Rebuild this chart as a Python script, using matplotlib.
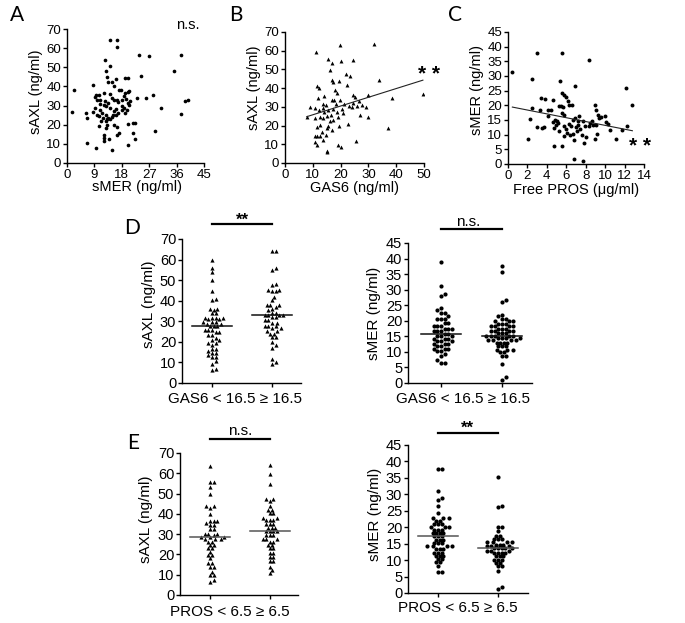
import numpy as np
import matplotlib
matplotlib.use('Agg')
import matplotlib.pyplot as plt

plt.rcParams['font.family'] = ['Liberation Sans', 'DejaVu Sans']

# ---------------- data ----------------
# Panel A: sMER (x) vs sAXL (y)
A_smer = [14.2,16.4,16.4,12.6,12.9,14.2,23.5,26.8,37.4,35.2,
          24.2,19.1,20.2,16.1,13.1,8.5,13.6,14.7,15.3,2.4,
          17.2,17.7,20.1,19.1,20.5,12.0,10.6,9.6,14.2,16.4,
          18.8,19.4,18.2,22.9,28.4,38.8,39.9,31.0,37.4,1.7,
          6.3,6.7,8.7,9.3,9.1,10.0,10.9,12.0,12.9,14.1,
          15.5,16.1,10.7,9.8,11.5,12.9,15.0,14.7,13.1,11.8,
          10.5,10.6,11.2,13.6,14.2,16.1,16.6,18.0,18.6,20.2,
          20.5,19.7,19.1,18.2,16.9,20.7,12.5,13.6,10.9,12.9,
          13.3,12.9,15.3,16.4,20.2,21.8,22.4,21.8,22.4,16.4,
          17.2,12.0,12.0,12.0,13.9,20.2,6.5,9.6,14.7,28.9,
          26.0,14.7,15.4]
A_saxl = [64.5,64.0,60.5,53.8,47.9,50.5,56.3,55.7,56.3,48.3,
          45.3,44.3,44.6,44.1,44.9,40.8,42.2,42.2,40.1,38.3,
          38.0,38.3,36.9,36.6,37.5,36.6,35.7,35.7,36.0,33.1,
          34.8,33.4,32.8,33.8,35.7,32.2,32.8,28.6,25.6,26.5,
          26.1,23.5,26.5,28.7,34.3,33.1,31.0,30.1,29.6,28.7,
          27.0,28.2,27.9,25.3,26.1,25.3,25.3,24.0,23.0,23.5,
          24.4,19.5,21.8,23.5,23.2,25.3,26.1,29.6,28.7,31.4,
          30.5,27.9,26.1,27.9,31.9,32.6,32.2,31.4,33.1,21.8,
          20.0,18.3,20.0,18.6,20.6,20.9,20.9,15.7,12.7,14.8,
          15.7,14.8,13.1,11.3,12.5,9.6,10.5,7.7,7.0,16.6,
          34.0,34.0,33.1]

# Panel B: GAS6 (x) vs sAXL (y)
B_gas6 = [19.8,32.1,11.2,15.6,20.0,24.3,16.8,16.2,21.8,23.3,
          16.8,17.2,19.4,33.9,11.4,12.4,22.2,18.0,18.6,14.0,
          24.6,25.2,30.0,38.4,49.6,12.0,16.8,17.7,19.8,21.3,
          23.1,24.6,25.8,27.6,29.1,24.0,13.5,14.7,13.8,12.4,
          10.8,9.0,15.6,17.4,18.6,21.0,15.0,16.5,12.6,13.8,
          10.8,17.4,19.2,27.0,29.7,22.8,16.2,15.6,15.0,16.8,
          12.6,11.4,13.2,14.7,12.6,11.4,10.8,19.6,37.2,10.8,
          11.4,13.8,19.2,20.0,25.5,15.0,15.2,7.8,26.5,18.2,
          14.2,20.5]
B_saxl = [63.3,63.8,59.4,55.5,54.6,55.3,53.2,49.6,47.5,46.6,
          44.3,43.4,44.0,44.1,41.1,40.2,41.7,39.0,37.2,36.0,
          36.3,35.1,36.2,34.9,36.7,34.6,33.7,33.7,33.7,31.6,
          30.5,31.9,30.5,31.0,29.8,29.8,31.6,30.9,29.3,28.4,
          29.3,30.1,28.4,28.7,27.5,26.6,25.2,25.7,24.8,23.9,
          23.9,23.0,24.5,25.7,24.5,20.9,22.2,19.9,18.6,17.7,
          20.4,19.5,16.8,15.1,14.2,14.2,14.2,19.9,18.6,11.0,
          9.8,12.4,9.8,8.5,11.5,6.6,5.9,24.8,33.3,31.5,
          27.0,29.0]
B_fit = [0.467, 21.1]   # slope, intercept of regression line

# Panel C: free PROS (x) vs sMER (y)
C_pros = [0.45,3.0,5.6,8.3,2.5,5.4,6.9,12.1,12.8,5.6,
          5.8,3.4,3.8,4.1,4.4,4.6,5.3,5.5,5.7,6.0,
          6.2,6.3,6.6,5.6,5.75,2.5,2.3,2.1,3.0,3.5,
          3.7,4.1,4.7,4.6,4.8,5.0,4.7,5.6,5.75,5.3,
          5.8,6.1,6.3,6.5,6.7,6.9,6.7,6.8,7.1,7.2,
          7.3,7.4,7.6,7.7,7.8,8.0,8.3,8.4,8.6,8.8,
          9.0,9.1,9.3,9.4,9.1,9.2,9.0,9.6,10.0,10.1,
          10.3,10.5,11.1,11.7,12.3,6.8,7.7,5.1,6.0,7.0,
          7.9,6.4,4.9,3.3,7.2]
C_smer = [31.2,37.8,37.8,35.3,29.0,28.2,26.7,25.9,20.2,24.2,
          23.5,22.5,22.3,18.5,18.4,21.9,19.7,19.9,19.4,22.8,
          21.5,20.2,20.2,17.4,16.8,19.1,15.3,8.5,12.5,12.3,
          12.5,16.3,12.3,14.2,14.9,14.5,6.3,6.0,9.4,11.1,
          12.8,10.6,13.8,13.1,15.1,15.7,10.3,8.3,11.1,13.4,
          16.3,11.9,10.0,14.5,7.2,9.2,12.8,14.0,14.5,13.4,
          20.2,18.5,16.8,15.7,13.4,10.3,8.5,16.1,16.3,14.3,
          13.8,11.7,8.5,11.7,12.8,1.7,1.1,14.0,12.0,12.5,
          13.0,9.8,13.3,18.5,14.8]
C_fit = [-0.653, 19.7]  # slope, intercept of regression line

# Panel D: groups by GAS6
D_groups = ['GAS6 < 16.5', '\u2265 16.5']
D_saxl_low = [59.8,55.7,53.8,50.0,44.7,41.0,40.3,36.2,36.2,35.4,33.8,33.8,
              31.8,31.8,31.8,31.8,30.9,30.9,29.5,29.5,29.5,28.5,28.5,
              27.6,27.6,27.6,
              26.0,26.0,26.0,24.8,24.8,23.5,23.5,22.1,20.8,20.8,19.5,19.5,
              18.4,16.4,16.4,15.6,14.6,14.6,13.5,12.7,12.7,10.6,9.4,7.0,6.2]
D_saxl_high = [64.2,64.2,55.7,54.9,47.9,47.6,45.1,45.1,44.7,44.7,41.9,40.3,
               37.8,37.8,37.8,37.0,36.2,35.4,34.1,34.1,
               33.2,33.2,33.2,33.2,
               32.2,32.2,30.5,30.5,29.2,29.2,27.6,27.6,27.6,26.5,26.5,
               25.4,25.4,24.0,24.0,22.4,22.4,20.0,18.4,17.2,11.9,10.2,9.4]
D_smer_low = [38.8,31.3,28.6,28.1,24.1,23.4,22.5,22.5,21.6,20.6,20.6,20.6,
              19.3,19.3,18.4,18.4,18.4,17.4,17.4,17.4,16.6,16.6,16.6,
              15.8,15.8,
              15.0,15.0,15.0,14.1,14.1,14.1,13.4,13.4,13.4,12.5,12.5,12.5,
              11.8,11.8,10.9,10.9,10.9,10.2,10.2,9.4,8.6,7.3,6.4,6.4]
D_smer_high = [37.7,35.6,26.8,25.9,22.0,21.4,20.6,20.6,19.8,19.8,19.8,
               19.1,19.1,19.1,18.2,18.2,18.2,18.2,17.5,17.5,17.5,
               16.6,16.6,16.6,16.6,16.1,16.1,16.1,
               15.2,15.2,15.2,15.2,15.2,
               14.5,14.5,14.5,14.5,13.7,13.7,13.7,13.7,12.9,12.9,12.9,12.9,
               11.8,11.8,11.8,10.7,10.7,10.7,9.9,9.9,8.8,8.8,6.2,1.9,1.1]

# Panel E: groups by PROS
E_groups = ['PROS < 6.5', '\u2265 6.5']
E_saxl_low = [63.4,55.7,55.7,53.0,49.7,44.1,44.1,43.1,39.7,36.6,36.6,36.6,
              35.6,34.4,34.4,32.3,32.3,30.3,30.3,30.3,29.5,
              28.7,28.7,28.7,
              27.4,27.4,27.4,26.2,26.2,24.6,24.6,23.0,23.0,21.3,19.7,19.7,
              18.0,15.6,15.6,13.9,13.9,11.5,9.8,9.8,7.4,6.2]
E_saxl_high = [63.9,59.8,54.9,47.5,47.5,46.2,43.8,41.8,41.8,40.2,40.2,
               38.2,38.2,36.9,36.9,36.9,34.9,34.9,34.9,33.1,33.1,33.1,
               31.5,31.5,31.5,31.5,
               29.5,29.5,29.5,27.4,27.4,27.4,26.2,26.2,24.6,24.6,23.0,23.0,
               20.8,20.8,18.9,18.9,16.9,16.9,13.9,12.3,10.7]
E_smer_low = [37.6,37.6,31.1,29.0,28.3,26.5,24.3,22.8,22.8,22.8,22.0,22.0,
              21.0,21.0,21.0,20.0,20.0,20.0,19.2,19.2,19.2,18.2,18.2,18.2,18.2,
              17.2,17.2,17.2,
              16.2,16.2,16.2,15.2,15.2,15.2,14.2,14.2,14.2,14.2,13.3,13.3,13.3,
              12.3,12.3,12.3,11.3,11.3,11.3,10.3,10.3,9.3,9.3,8.3,6.3,6.3]
E_smer_high = [35.2,26.5,26.0,20.2,20.2,18.7,17.4,17.4,16.4,16.4,16.4,
               15.4,15.4,15.4,15.4,14.7,14.7,14.7,14.2,14.2,14.2,
               13.7,13.7,13.7,13.7,13.7,
               12.9,12.9,12.9,12.1,12.1,12.1,12.1,11.1,11.1,11.1,
               10.1,10.1,10.1,9.1,9.1,8.1,8.1,6.6,1.8,1.2]

# ---------------- figure ----------------
W, H = 685, 623
fig = plt.figure(figsize=(W / 100, H / 100), dpi=100)

TS1, LS1 = 9.5, 10.5   # top row tick / label sizes
TS2, LS2 = 10.5, 11    # bottom rows


def px_axes(x0, y0, x1, y1):
    return fig.add_axes([x0 / W, 1 - y1 / H, (x1 - x0) / W, (y1 - y0) / H])


def style(ax, fs):
    for s in ['top', 'right']:
        ax.spines[s].set_visible(False)
    for s in ['left', 'bottom']:
        ax.spines[s].set_linewidth(1.0)
    ax.tick_params(direction='out', length=3, width=1, labelsize=fs, pad=1.2)


def fig_xy(xp, yp):
    return xp / W, 1 - yp / H


def set_labels(ax, xl, xpos, yl, ypos, fs):
    ax.set_xlabel(xl, fontsize=fs, va='center')
    ax.xaxis.set_label_coords(*fig_xy(*xpos), transform=fig.transFigure)
    ax.set_ylabel(yl, fontsize=fs, va='center', ha='center')
    ax.yaxis.set_label_coords(*fig_xy(*ypos), transform=fig.transFigure)


def letter(ch, xp, yp):
    fig.text(*fig_xy(xp, yp), ch, fontsize=15, ha='center', va='center',
             family=['Lato', 'DejaVu Sans'])


def ftext(s, xp, yp, fs, **kw):
    fig.text(*fig_xy(xp, yp), s, fontsize=fs, ha='center', va='center', **kw)


# ---- Panel A ----
axA = px_axes(67, 29, 204, 163)
axA.scatter(A_smer, A_saxl, s=7, c='black', marker='o', linewidths=0)
axA.set_xlim(0, 45); axA.set_ylim(0, 70)
axA.set_xticks(np.arange(0, 46, 9)); axA.set_yticks(np.arange(0, 71, 10))
style(axA, TS1)
set_labels(axA, 'sMER (ng/ml)', (137, 187), 'sAXL (ng/ml)', (36, 92), LS1)
letter('A', 17, 15)
ftext('n.s.', 188, 25, 10.5)

# ---- Panel B ----
axB = px_axes(285, 32, 424, 163)
axB.scatter(B_gas6, B_saxl, s=8, c='black', marker='^', linewidths=0)
xr = np.array([min(B_gas6), max(B_gas6)])
axB.plot(xr, B_fit[0] * xr + B_fit[1], color='#222222', lw=0.8)
axB.set_xlim(0, 50); axB.set_ylim(0, 70)
axB.set_xticks(np.arange(0, 51, 10)); axB.set_yticks(np.arange(0, 71, 10))
style(axB, TS1)
set_labels(axB, 'GAS6 (ng/ml)', (354, 188), 'sAXL (ng/ml)', (254, 88), LS1)
letter('B', 236, 15)
ftext('* *', 429, 75, 15, fontweight='bold')

# ---- Panel C ----
axC = px_axes(508, 32, 644, 164)
axC.scatter(C_pros, C_smer, s=8, c='black', marker='o', linewidths=0)
xr = np.array([min(C_pros), max(C_pros)])
axC.plot(xr, C_fit[0] * xr + C_fit[1], color='#222222', lw=0.8)
axC.set_xlim(0, 14); axC.set_ylim(0, 45)
axC.set_xticks(np.arange(0, 15, 2)); axC.set_yticks(np.arange(0, 46, 5))
style(axC, TS1)
set_labels(axC, 'Free PROS (\u03bcg/ml)', (576, 190), 'sMER (ng/ml)', (477, 90), LS1)
letter('C', 455, 15)
ftext('* *', 640, 146, 15, fontweight='bold')


# ---- dot plots ----
def swarm(ax, values, center, spacing=3.6, step=1.8):
    vals = np.asarray(values, float)
    pts = ax.transData.transform(np.column_stack([np.full(len(vals), center), vals]))
    xc = pts[0, 0]
    ys = pts[:, 1]
    order = np.argsort(vals, kind='stable')
    cands = [0.0]
    for j in range(1, 60):
        cands += [j * step, -j * step]
    px, py = [], []
    offs = np.zeros(len(vals))
    for i in order:
        y = ys[i]
        for off in cands:
            ok = True
            for a, b in zip(px, py):
                if (off - a) ** 2 + (y - b) ** 2 < spacing ** 2:
                    ok = False
                    break
            if ok:
                break
        px.append(off); py.append(y); offs[i] = off
    data = ax.transData.inverted().transform(np.column_stack([xc + offs, ys]))
    return data[:, 0], vals


def dotplot(rect, xlim, ymax, ystep, groups_vals, marker, medcol, xl, xlpos, yl, ylpos,
            sig, barpx, txtpx):
    ax = px_axes(*rect)
    ax.set_xlim(*xlim); ax.set_ylim(0, ymax)
    ax.set_yticks(np.arange(0, ymax + 1, ystep))
    ax.set_xticks([0, 1]); ax.set_xticklabels(['', ''])
    style(ax, TS2)
    for c, vals in enumerate(groups_vals):
        xs, ys = swarm(ax, vals, c)
        ax.scatter(xs, ys, s=9, c='black', marker=marker, linewidths=0, clip_on=False, zorder=3)
        med = np.median(vals)
        ax.plot([c - 0.33, c + 0.33], [med, med], color=medcol, lw=1.1, zorder=4)
    inv = ax.transData.inverted()
    yb = inv.transform((0, H - barpx))[1]
    ax.plot([0, 1], [yb, yb], color='black', lw=1.6, clip_on=False)
    kw = {'fontweight': 'bold'} if sig == '**' else {}
    ftext(sig, txtpx[0], txtpx[1], txtpx[2], **kw)
    set_labels(ax, xl, xlpos, yl, ylpos, LS2)
    return ax


dotplot((182, 239, 301, 383), (-0.5, 1.483), 70, 10, [D_saxl_low, D_saxl_high], '^', '#111111',
        ' '.join(D_groups), (235, 399), 'sAXL (ng/ml)', (149, 304),
        '**', 224, (242, 220, 12))
dotplot((408, 243, 532, 383), (-0.54, 1.49), 45, 5, [D_smer_low, D_smer_high], 'o', '#111111',
        ' '.join(D_groups), (463, 399), 'sMER (ng/ml)', (374, 313),
        'n.s.', 229, (468, 222, 11))
dotplot((180, 453, 298, 595), (-0.5, 1.47), 70, 10, [E_saxl_low, E_saxl_high], '^', '#555555',
        ' '.join(E_groups), (230, 612), 'sAXL (ng/ml)', (146, 519),
        'n.s.', 439, (240, 431, 11))
dotplot((408, 445, 528, 593), (-0.5, 1.5), 45, 5, [E_smer_low, E_smer_high], 'o', '#555555',
        ' '.join(E_groups), (458, 608), 'sMER (ng/ml)', (375, 514),
        '**', 433, (467, 428, 12))
letter('D', 132, 228)
letter('E', 133, 443)

fig.savefig('out.png', dpi=100)
